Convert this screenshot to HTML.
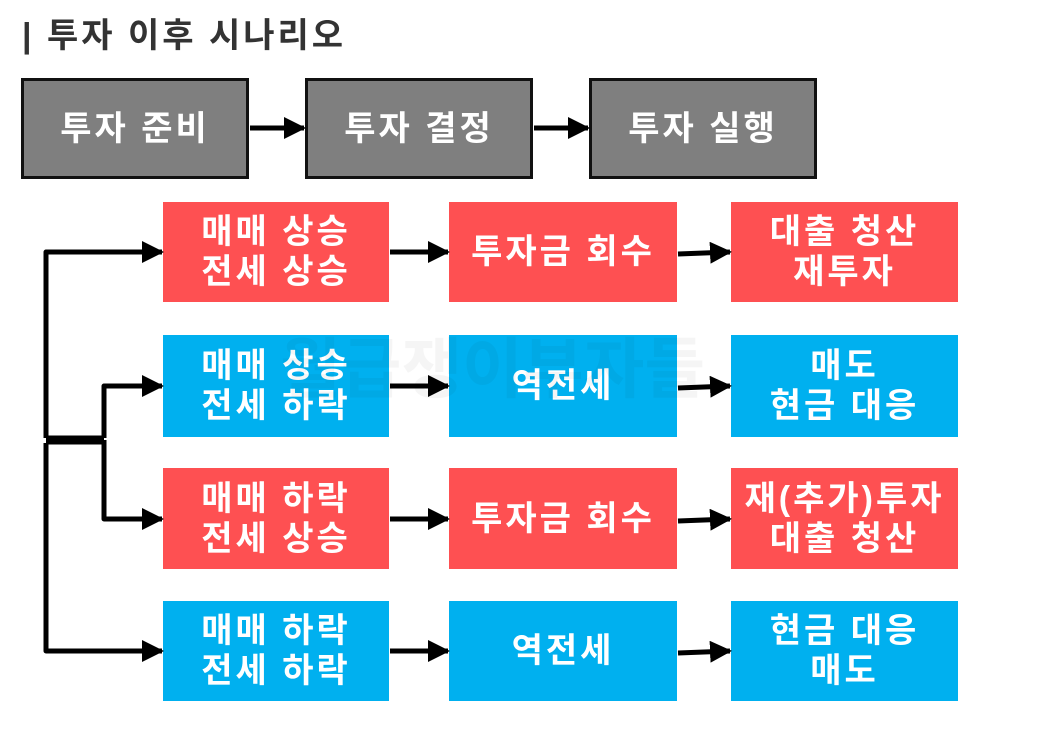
<!DOCTYPE html>
<html><head><meta charset="utf-8"><style>
body{margin:0;width:1062px;height:733px;background:#fff;position:relative;overflow:hidden;font-family:"Liberation Sans","Noto Sans CJK KR",sans-serif;}
.t{position:absolute;left:22px;top:8px;font-size:34px;font-weight:bold;color:#333;letter-spacing:3px}
.b{position:absolute;display:flex;align-items:center;justify-content:center;text-align:center;color:#fff;font-weight:bold;font-size:34px;line-height:40px;box-sizing:border-box;letter-spacing:3px}
.g{background:#7f7f7f;border:3px solid #111;top:78px;height:101px;width:228px}
.r{background:#fe5052}.c{background:#00b0ef}
svg{position:absolute;left:0;top:0}
.w{position:absolute;left:280px;top:316px;font-size:66px;font-weight:bold;color:rgba(0,0,0,0.04)}
</style></head><body>
<div class="t">| 투자 이후 시나리오</div>
<div class="b g" style="left:21px">투자 준비</div>
<div class="b g" style="left:305px">투자 결정</div>
<div class="b g" style="left:589px">투자 실행</div>

<div class="b r" style="left:163px;top:202px;width:226px;height:100px">매매 상승<br>전세 상승</div>
<div class="b r" style="left:449px;top:202px;width:228px;height:100px">투자금 회수</div>
<div class="b r" style="left:731px;top:202px;width:227px;height:100px">대출 청산<br>재투자</div>

<div class="b c" style="left:163px;top:335px;width:226px;height:102px">매매 상승<br>전세 하락</div>
<div class="b c" style="left:449px;top:335px;width:228px;height:102px">역전세</div>
<div class="b c" style="left:731px;top:335px;width:227px;height:102px">매도<br>현금 대응</div>

<div class="b r" style="left:163px;top:468px;width:226px;height:101px">매매 하락<br>전세 상승</div>
<div class="b r" style="left:449px;top:468px;width:228px;height:101px">투자금 회수</div>
<div class="b r" style="left:731px;top:468px;width:227px;height:101px">재(추가)투자<br>대출 청산</div>

<div class="b c" style="left:163px;top:601px;width:226px;height:100px">매매 하락<br>전세 하락</div>
<div class="b c" style="left:449px;top:601px;width:228px;height:100px">역전세</div>
<div class="b c" style="left:731px;top:601px;width:227px;height:100px">현금 대응<br>매도</div>

<div class="w">월급쟁이부자들</div>

<svg width="1062" height="733">
<defs><marker id="a" markerWidth="4.4" markerHeight="4.4" refX="4" refY="2.2" orient="auto" markerUnits="strokeWidth"><path d="M0,0L4.4,2.2L0,4.4Z" fill="#000"/></marker></defs>
<g stroke="#000" stroke-width="5" fill="none" stroke-linejoin="round">
<line x1="250" y1="128" x2="304" y2="128" marker-end="url(#a)"/>
<line x1="534" y1="128" x2="588" y2="128" marker-end="url(#a)"/>
<path d="M46,438 L46,252 L162,252" marker-end="url(#a)"/>
<path d="M46,443 L46,651 L162,651" marker-end="url(#a)"/>
<path d="M104,438 L104,386 L162,386" marker-end="url(#a)"/>
<path d="M104,440 L104,519 L162,519" marker-end="url(#a)"/>
<line x1="46" y1="440" x2="104" y2="440" stroke-width="9"/>
<line x1="390" y1="252" x2="448" y2="252" marker-end="url(#a)"/>
<line x1="678" y1="254" x2="730" y2="252" marker-end="url(#a)"/>
<line x1="390" y1="386" x2="448" y2="386" marker-end="url(#a)"/>
<line x1="678" y1="388" x2="730" y2="386" marker-end="url(#a)"/>
<line x1="390" y1="519" x2="448" y2="519" marker-end="url(#a)"/>
<line x1="678" y1="521" x2="730" y2="519" marker-end="url(#a)"/>
<line x1="390" y1="651" x2="448" y2="651" marker-end="url(#a)"/>
<line x1="678" y1="653" x2="730" y2="651" marker-end="url(#a)"/>
</g></svg>
</body></html>
